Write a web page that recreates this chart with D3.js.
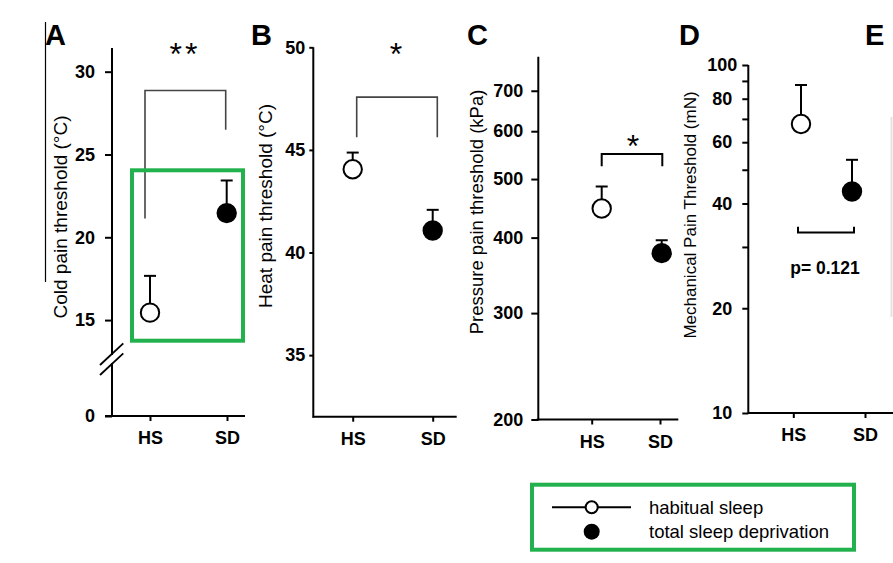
<!DOCTYPE html>
<html><head><meta charset="utf-8">
<script src="https://cdn.jsdelivr.net/npm/d3@7"></script>
<style>body{margin:0;background:#fff}svg{display:block}</style>
</head><body>
<svg id="c" width="893" height="563"></svg>
<script>
// ---------- data ----------
const groups = ["HS", "SD"];
const coldMean = [15.45, 21.46];
const coldUpper = [17.67, 23.43];
const heatMean = [44.06, 41.07];
const heatUpper = [44.87, 42.08];
const pressureMean = [447, 377];
const pressureUpper = [486, 396];
const mechMean = [67.7, 43.3];
const mechUpper = [87.6, 53.4];
const coldTicks = [0, 15, 20, 25, 30];
const heatTicks = [35, 40, 45, 50];
const pressureTicks = [200, 300, 400, 500, 600, 700];
const mechTicks = [10, 20, 30, 40, 50, 60, 70, 80, 90, 100];
const mechTickLabels = [10, 20, 40, 60, 80, 100];
const panelLetters = ["A", "B", "C", "D", "E"];
const yTitles = ["Cold pain threshold (°C)", "Heat pain threshold (°C)",
                 "Pressure pain threshold (kPa)", "Mechanical Pain Threshold (mN)"];
const sigLabels = ["**", "*", "*", "p= 0.121"];
// bracket values: [left end, top/bar level, right end]
const coldBracket = [21.14, 28.86, 26.49];
const heatBracket = [45.62, 47.57, 45.62];
const pressureBracket = [525, 550, 525];
const mechBracket = [34.3, 33.0, 34.3];
const legendLabels = ["habitual sleep", "total sleep deprivation"];

// ---------- setup ----------
const svg = d3.select("#c");
const font = "'Liberation Sans', Arial, Helvetica, sans-serif";
const green = "#22b14c";

const panels = [
  { y: d3.scaleLinear().domain([0, 13, 31.43]).range([416, 353.2, 48]),
    ticks: coldTicks, mean: coldMean, upper: coldUpper, bracket: coldBracket,
    axisX: 112, xAxisY: 416, xLine: [105, 245], tickX: [150, 227], markX: [150, 226.7],
    tickLen: 7, pad: 10, title: yTitles[0], titleX: 67, titleY: 217, titleSize: 19,
    bracketColor: "#444", bracketW: 1.6, sig: sigLabels[0], sigX: 185, sigY: 65 },
  { y: d3.scaleLinear().domain([32, 50]).range([416.7, 47.3]),
    ticks: heatTicks, mean: heatMean, upper: heatUpper, bracket: heatBracket,
    axisX: 313.3, xAxisY: 416.7, xLine: [312.7, 456.7], tickX: [352.7, 432.7], markX: [352.7, 432.7],
    tickLen: 4, pad: 4, title: yTitles[1], titleX: 272, titleY: 206, titleSize: 19,
    bracketColor: "#444", bracketW: 1.6, sig: sigLabels[1], sigX: 396, sigY: 65 },
  { y: d3.scaleLog().domain([200, 797]).range([419.5, 56.7]),
    ticks: pressureTicks, mean: pressureMean, upper: pressureUpper, bracket: pressureBracket,
    axisX: 538.3, xAxisY: 419.5, xLine: [536.7, 678.3], tickX: [591.7, 660], markX: [601.7, 661.7],
    tickLen: 7, pad: 8, title: yTitles[2], titleX: 483, titleY: 212, titleSize: 18.5,
    bracketColor: "#000", bracketW: 2, sig: sigLabels[2], sigX: 633, sigY: 157 },
  { y: d3.scaleLog().domain([10, 100]).range([413, 65]),
    ticks: mechTicks, mean: mechMean, upper: mechUpper, bracket: mechBracket,
    axisX: 748.3, xAxisY: 413, xLine: [748.3, 893], tickX: [793.3, 865], markX: [801, 852],
    tickLen: 6, pad: 0, title: yTitles[3], titleX: 695.5, titleY: 215, titleSize: 17,
    bracketColor: "#000", bracketW: 2, sig: sigLabels[3], sigX: 825, sigY: 274, centered: true }
];

panels.forEach((p, idx) => {
  const g = svg.append("g");
  const [yLo] = d3.extent(p.y.range());

  // y axis ticks + labels
  const ax = d3.axisLeft(p.y).tickValues(p.ticks).tickSize(p.tickLen).tickPadding(p.pad)
    .tickSizeOuter(0)
    .tickFormat(d => p.centered ? (mechTickLabels.includes(d) ? d : "") : d);
  const ga = g.append("g").attr("transform", `translate(${p.axisX},0)`).call(ax);
  ga.select(".domain").remove();
  ga.selectAll("line").attr("stroke", "#000").attr("stroke-width", 2);
  ga.selectAll("text").attr("font-family", font).attr("font-weight", "bold")
    .attr("font-size", 18).attr("fill", "#000");
  if (p.centered) ga.selectAll("text").attr("text-anchor", "middle").attr("x", -26);

  // y axis line
  g.append("line").attr("x1", p.axisX).attr("x2", p.axisX)
    .attr("y1", yLo).attr("y2", p.xAxisY + 1)
    .attr("stroke", "#000").attr("stroke-width", 2);

  // x axis
  const xs = d3.scalePoint().domain(groups).range(p.tickX);
  const axb = d3.axisBottom(xs).tickSize(5).tickPadding(10.5).tickSizeOuter(0);
  const gb = g.append("g").attr("transform", `translate(0,${p.xAxisY})`).call(axb);
  gb.select(".domain").remove();
  gb.selectAll("line").attr("stroke", "#000").attr("stroke-width", 2);
  gb.selectAll("text").attr("font-family", font).attr("font-weight", "bold")
    .attr("font-size", 18).attr("fill", "#000");
  g.append("line").attr("x1", p.xLine[0]).attr("x2", p.xLine[1])
    .attr("y1", p.xAxisY).attr("y2", p.xAxisY)
    .attr("stroke", "#000").attr("stroke-width", 2);

  // y title
  g.append("text").attr("transform", `translate(${p.titleX},${p.titleY}) rotate(-90)`)
    .attr("text-anchor", "middle").attr("font-family", font)
    .attr("font-size", p.titleSize).attr("fill", "#000").text(p.title);

  // markers
  const mx = d3.scalePoint().domain(groups).range(p.markX);
  groups.forEach((gr, i) => {
    const cx = mx(gr), cy = p.y(p.mean[i]), uy = p.y(p.upper[i]);
    g.append("line").attr("x1", cx).attr("x2", cx).attr("y1", cy).attr("y2", uy)
      .attr("stroke", "#000").attr("stroke-width", 2);
    g.append("line").attr("x1", cx - 6).attr("x2", cx + 6).attr("y1", uy).attr("y2", uy)
      .attr("stroke", "#000").attr("stroke-width", 2);
  });
  groups.forEach((gr, i) => {
    g.append("circle").attr("cx", mx(gr)).attr("cy", p.y(p.mean[i])).attr("r", 9.2)
      .attr("fill", i === 0 ? "#fff" : "#000").attr("stroke", "#000").attr("stroke-width", 2);
  });

  // bracket
  const bl = mx(groups[0]) + (idx === 3 ? -3 : idx === 0 ? -5 : idx === 1 ? 4 : 0);
  const br = mx(groups[1]) + (idx === 3 ? 2 : idx === 0 ? -1 : idx === 1 ? 4.6 : 0.6);
  const path = d3.path();
  path.moveTo(bl, p.y(p.bracket[0]));
  path.lineTo(bl, p.y(p.bracket[1]));
  path.lineTo(br, p.y(p.bracket[1]));
  path.lineTo(br, p.y(p.bracket[2]));
  g.append("path").attr("d", path.toString()).attr("fill", "none")
    .attr("stroke", p.bracketColor).attr("stroke-width", p.bracketW);

  // significance label
  const isP = p.sig.startsWith("p");
  g.append("text").attr("x", p.sigX).attr("y", p.sigY).attr("text-anchor", "middle")
    .attr("font-family", font).attr("font-weight", isP ? "bold" : "normal")
    .attr("font-size", isP ? 17.5 : 32).attr("letter-spacing", p.sig === "**" ? 3 : 0)
    .attr("fill", "#000").text(p.sig);
});

// axis break on panel A
svg.append("rect").attr("x", 108).attr("y", 355).attr("width", 8).attr("height", 8).attr("fill", "#fff");
[[365, 343.3], [375, 353.3]].forEach(([y1, y2]) => {
  svg.append("line").attr("x1", 100).attr("y1", y1).attr("x2", 123.3).attr("y2", y2)
    .attr("stroke", "#000").attr("stroke-width", 1.8);
});

// thin line left of A
svg.append("line").attr("x1", 45.5).attr("x2", 45.5).attr("y1", 22).attr("y2", 282)
  .attr("stroke", "#000").attr("stroke-width", 1.2);

// faint trace of panel E
svg.append("line").attr("x1", 891.5).attr("x2", 891.5).attr("y1", 117).attr("y2", 317)
  .attr("stroke", "#e2e2e2").attr("stroke-width", 2);

// panel letters
const letterX = [45, 251, 467, 679, 865];
panelLetters.forEach((L, i) => {
  svg.append("text").attr("x", letterX[i]).attr("y", 45).attr("font-family", font)
    .attr("font-weight", "bold").attr("font-size", 29).attr("fill", "#000").text(L);
});

// green highlight box in A
svg.append("rect").attr("x", 132).attr("y", 170.3).attr("width", 111).attr("height", 170.4)
  .attr("fill", "none").attr("stroke", green).attr("stroke-width", 4);

// legend
const lg = svg.append("g");
lg.append("rect").attr("x", 532).attr("y", 484.7).attr("width", 322).attr("height", 65)
  .attr("fill", "#fff").attr("stroke", green).attr("stroke-width", 4);
lg.append("line").attr("x1", 552).attr("x2", 631).attr("y1", 507.3).attr("y2", 507.3)
  .attr("stroke", "#000").attr("stroke-width", 2);
lg.append("circle").attr("cx", 591.7).attr("cy", 507.3).attr("r", 6).attr("fill", "#fff")
  .attr("stroke", "#000").attr("stroke-width", 2);
lg.append("circle").attr("cx", 591.7).attr("cy", 531.7).attr("r", 8).attr("fill", "#000");
legendLabels.forEach((t, i) => {
  lg.append("text").attr("x", 649).attr("y", 514 + i * 24).attr("font-family", font)
    .attr("font-size", 18.5).attr("fill", "#000").text(t);
});
</script>
</body></html>
